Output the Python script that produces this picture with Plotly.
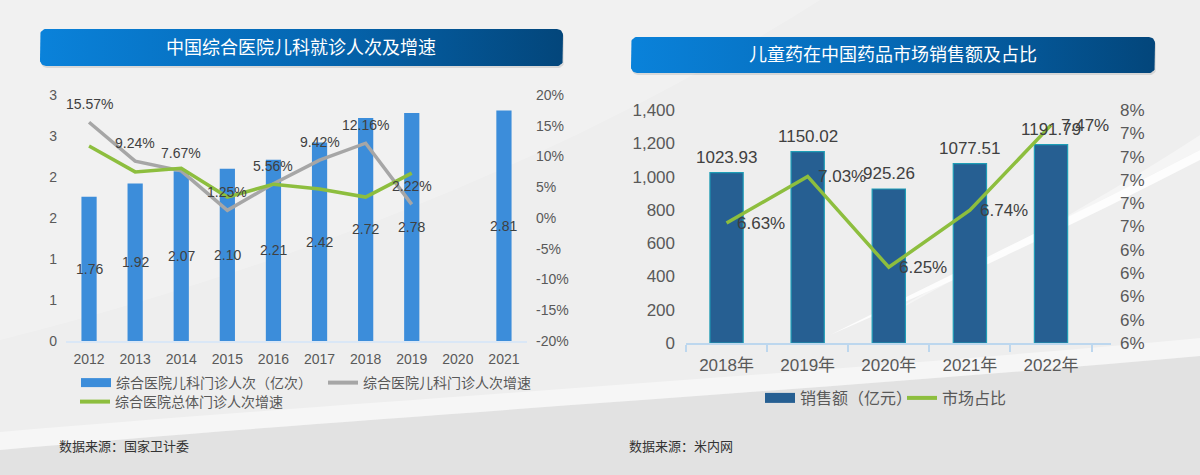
import plotly.graph_objects as go
import math

# ---------------- data ----------------
years_left = [2012, 2013, 2014, 2015, 2016, 2017, 2018, 2019, 2020, 2021]
visits = [1.76, 1.92, 2.07, 2.10, 2.21, 2.42, 2.72, 2.78, None, 2.81]          # 亿次
ped_growth = [15.57, 9.24, 7.67, 1.25, 5.56, 9.42, 12.16, 2.22, None, None]      # %
total_growth = [11.7, 7.5, 8.1, 3.4, 5.5, 4.7, 3.4, 7.3, None, None]             # % (estimated)

left_y_ticks = [0, 0.5, 1, 1.5, 2, 2.5, 3]
left_y_text = ["0", "1", "1", "2", "2", "3", "3"]
left_y2_ticks = [-20, -15, -10, -5, 0, 5, 10, 15, 20]
left_y2_text = ["-20%", "-15%", "-10%", "-5%", "0%", "5%", "10%", "15%", "20%"]

years_right = ["2018年", "2019年", "2020年", "2021年", "2022年"]
sales = [1023.93, 1150.02, 925.26, 1077.51, 1191.79]   # 亿元
share = [6.63, 7.03, 6.25, 6.74, 7.47]                  # %

right_y2_ticks = [5.6, 5.8, 6.0, 6.2, 6.4, 6.6, 6.8, 7.0, 7.2, 7.4, 7.6]
right_y2_text = ["6%", "6%", "6%", "6%", "6%", "7%", "7%", "7%", "7%", "7%", "8%"]

title_left = "中国综合医院儿科就诊人次及增速"
title_right = "儿童药在中国药品市场销售额及占比"
source_left = "数据来源：国家卫计委"
source_right = "数据来源：米内网"
names_left = ["综合医院儿科门诊人次（亿次）", "综合医院儿科门诊人次增速", "综合医院总体门诊人次增速"]
names_right = ["销售额（亿元）", "市场占比"]

# ---------------- style ----------------
W, H = 1200, 475
FONT = "Liberation Sans, Noto Sans CJK SC, sans-serif"
AXIS_C = "#595959"
LABEL_C = "#404040"
BLUE_L = "#3C8DDA"
BLUE_R = "#265F92"
GREY = "#A6A6A6"
GREEN = "#8DBE3E"


def px(x):
    return x / W


def py(y):
    return 1 - y / H


def P(x, y):
    return f"{px(x):.5f},{py(y):.5f}"


fig = go.Figure()

# ---- left chart ----
fig.add_trace(go.Bar(x=years_left, y=visits, marker=dict(color=BLUE_L), width=0.33,
                     xaxis="x", yaxis="y", showlegend=False, hoverinfo="skip"))
fig.add_trace(go.Scatter(x=years_left, y=ped_growth, mode="lines", line=dict(color=GREY, width=3.5),
                         xaxis="x", yaxis="y2", showlegend=False))
fig.add_trace(go.Scatter(x=years_left, y=total_growth, mode="lines", line=dict(color=GREEN, width=3.5),
                         xaxis="x", yaxis="y2", showlegend=False))

# ---- right chart ----
fig.add_trace(go.Bar(x=years_right, y=sales, marker=dict(color=BLUE_R, line=dict(color="#1E9DB6", width=1.2)),
                     width=0.41, xaxis="x3", yaxis="y3", showlegend=False))
fig.add_trace(go.Scatter(x=years_right, y=share, mode="lines", line=dict(color=GREEN, width=3.5),
                         xaxis="x3", yaxis="y4", showlegend=False))

# ---- legend proxies ----
legend_specs = [
    (names_left[0], BLUE_L, 9, "legend"),
    (names_left[1], GREY, 4, "legend2"),
    (names_left[2], GREEN, 4, "legend3"),
    (names_right[0], BLUE_R, 10, "legend4"),
    (names_right[1], GREEN, 4, "legend5"),
]
for name, col, lw, lg in legend_specs:
    fig.add_trace(go.Scatter(x=[None], y=[None], mode="lines", name=name, line=dict(color=col, width=lw),
                             xaxis="x5", yaxis="y5", legend=lg, showlegend=True))


# ---- title boxes (gradient) ----
def rounded_rect(x0, y0, x1, y1, r, n=8):
    xs, ys = [], []
    corners = [(x1 - r, y0 + r, -90, 0), (x1 - r, y1 - r, 0, 90), (x0 + r, y1 - r, 90, 180), (x0 + r, y0 + r, 180, 270)]
    for cx, cy, a0, a1 in corners:
        for i in range(n + 1):
            a = math.radians(a0 + (a1 - a0) * i / n)
            xs.append(cx + r * math.cos(a))
            ys.append(cy + r * math.sin(a))
    xs.append(xs[0])
    ys.append(ys[0])
    return xs, ys


for (x0, y0, x1, y1) in [(40, 29, 563, 66), (631, 37, 1155, 73)]:
    sx, sy = rounded_rect(x0 + 1, y0 + 2, x1 + 1, y1 + 2, 6)
    fig.add_trace(go.Scatter(x=sx, y=sy, mode="lines", line=dict(width=0), fill="toself",
                             fillcolor="rgba(0,0,0,0.10)", xaxis="x5", yaxis="y5", showlegend=False,
                             hoverinfo="skip"))
    bx, by = rounded_rect(x0, y0, x1, y1, 6)
    fig.add_trace(go.Scatter(x=bx, y=by, mode="lines", line=dict(width=0), fill="toself",
                             fillgradient=dict(type="horizontal",
                                               colorscale=[[0, "#0A82DA"], [0.5, "#0568B4"], [1, "#03467B"]]),
                             xaxis="x5", yaxis="y5", showlegend=False, hoverinfo="skip"))

annotations = []
annotations.append(dict(text=title_left, x=px(301), y=py(48), xref="paper", yref="paper", showarrow=False,
                        font=dict(size=18, color="white", family=FONT), xanchor="center", yanchor="middle"))
annotations.append(dict(text=title_right, x=px(893), y=py(55), xref="paper", yref="paper", showarrow=False,
                        font=dict(size=18, color="white", family=FONT), xanchor="center", yanchor="middle"))
annotations.append(dict(text=source_left, x=px(57), y=py(446), xref="paper", yref="paper", showarrow=False,
                        font=dict(size=13, color="#333333", family=FONT), xanchor="left", yanchor="middle"))
annotations.append(dict(text=source_right, x=px(627), y=py(446), xref="paper", yref="paper", showarrow=False,
                        font=dict(size=13, color="#333333", family=FONT), xanchor="left", yanchor="middle"))

# bar value labels (left, centred in bar)
for yr, v in zip(years_left, visits):
    if v is None:
        continue
    annotations.append(dict(text=f"{v:.2f}", x=yr, y=v / 2, xref="x", yref="y", showarrow=False,
                            font=dict(size=14, color=LABEL_C, family=FONT), xanchor="center", yanchor="middle"))
# grey line labels
for yr, v in zip(years_left, ped_growth):
    if v is None:
        continue
    annotations.append(dict(text=f"{v:.2f}%", x=yr, y=v, xref="x", yref="y2", showarrow=False, yshift=18,
                            font=dict(size=14, color=LABEL_C, family=FONT), xanchor="center", yanchor="middle"))
# right bar labels
for yr, v in zip(years_right, sales):
    annotations.append(dict(text=f"{v:.2f}", x=yr, y=v, xref="x3", yref="y3", showarrow=False, yshift=4,
                            font=dict(size=17, color=LABEL_C, family=FONT), xanchor="center", yanchor="bottom"))
# right line labels
for yr, v in zip(years_right, share):
    annotations.append(dict(text=f"{v:.2f}%", x=yr, y=v, xref="x3", yref="y4", showarrow=False, xshift=8,
                            font=dict(size=17, color=LABEL_C, family=FONT), xanchor="left", yanchor="middle"))

# ---- background decorations (paper coordinates, below everything) ----
shapes = [
    dict(type="path", xref="paper", yref="paper", layer="below",
         path=f"M{P(0,0)} L{P(820,0)} C{P(600,140)} {P(320,260)} {P(0,340)} Z",
         fillcolor="rgba(255,255,255,0.22)", line=dict(width=0)),
    dict(type="path", xref="paper", yref="paper", layer="below",
         path=f"M{P(0,450)} C{P(350,418)} {P(800,392)} {P(1200,356)} L{P(1200,475)} L{P(0,475)} Z",
         fillcolor="rgba(218,218,218,0.6)", line=dict(width=0)),
    dict(type="path", xref="paper", yref="paper", layer="below",
         path=f"M{P(0,432)} C{P(350,402)} {P(800,375)} {P(1200,338)} L{P(1200,356)} "
              f"C{P(800,392)} {P(350,418)} {P(0,450)} Z",
         fillcolor="rgba(255,255,255,0.45)", line=dict(width=0)),
    dict(type="path", xref="paper", yref="paper", layer="below",
         path=f"M{P(830,335)} C{P(950,275)} {P(1080,212)} {P(1200,150)} L{P(1200,160)} "
              f"C{P(1080,222)} {P(950,283)} {P(830,335)} Z",
         fillcolor="rgba(255,255,255,0.85)", line=dict(width=0)),
    dict(type="path", xref="paper", yref="paper", layer="below",
         path=f"M{P(880,320)} C{P(990,260)} {P(1100,200)} {P(1200,135)} L{P(1200,150)} "
              f"C{P(1080,212)} {P(950,275)} {P(880,320)} Z",
         fillcolor="rgba(255,255,255,0.4)", line=dict(width=0)),
]

tickfont_l = dict(size=14, color=AXIS_C, family=FONT)
tickfont_r = dict(size=17, color=AXIS_C, family=FONT)


def legend_cfg(x, y, size):
    return dict(x=px(x), y=py(y), xanchor="left", yanchor="middle", orientation="h",
                bgcolor="rgba(0,0,0,0)", borderwidth=0, font=dict(size=size, color=AXIS_C, family=FONT),
                itemclick=False, itemdoubleclick=False)


fig.update_layout(
    template="none",
    width=W, height=H,
    autosize=False,
    margin=dict(l=0, r=0, t=0, b=0, pad=0, autoexpand=False),
    paper_bgcolor="#EEEEEE",
    plot_bgcolor="rgba(0,0,0,0)",
    font=dict(family=FONT, color=AXIS_C),
    barmode="overlay",
    xaxis=dict(domain=[px(66), px(527)], anchor="y", type="linear", range=[2011.5, 2021.5],
               tickvals=years_left, ticktext=[str(y) for y in years_left], automargin=False,
               showline=True, linecolor="#DAE7F6", linewidth=2, ticks="",
               tickfont=tickfont_l, showgrid=False, zeroline=False, ticklabelstandoff=4),
    yaxis=dict(domain=[py(341), py(95)], anchor="x", range=[0, 3], tickvals=left_y_ticks, ticktext=left_y_text,
               showgrid=False, zeroline=False, tickfont=tickfont_l, ticklabelstandoff=8, ticks="",
               showline=False, automargin=False),
    yaxis2=dict(overlaying="y", side="right", anchor="x", range=[-20, 20], tickvals=left_y2_ticks,
                ticktext=left_y2_text, showgrid=False, zeroline=False, tickfont=tickfont_l, ticklabelstandoff=8,
                ticks="", showline=False, automargin=False),
    xaxis3=dict(domain=[px(686), px(1111)], anchor="y3", type="category", categoryorder="array",
                categoryarray=years_right, showline=True, linecolor="#BDD7EE", linewidth=1.5, ticks="outside",
                tickson="boundaries", ticklen=7, tickcolor="#BDD7EE", tickwidth=1.5, tickfont=tickfont_r,
                showgrid=False, zeroline=False, automargin=False, ticklabelstandoff=6),
    yaxis3=dict(domain=[py(343), py(110)], anchor="x3", range=[0, 1400], dtick=200, tickformat=",",
                showgrid=False, zeroline=False, tickfont=tickfont_r, ticklabelstandoff=10, ticks="",
                showline=False, automargin=False),
    yaxis4=dict(overlaying="y3", side="right", anchor="x3", range=[5.6, 7.6], tickvals=right_y2_ticks,
                ticktext=right_y2_text, showgrid=False, zeroline=False, tickfont=tickfont_r, ticklabelstandoff=8,
                ticks="", showline=False, automargin=False),
    xaxis5=dict(domain=[0, 1], anchor="y5", range=[0, W], visible=False, fixedrange=True, automargin=False),
    yaxis5=dict(domain=[0, 1], anchor="x5", range=[H, 0], visible=False, fixedrange=True, automargin=False),
    legend=legend_cfg(76, 383, 14),
    legend2=legend_cfg(323, 383, 14),
    legend3=legend_cfg(75, 402, 14),
    legend4=legend_cfg(760, 398, 16),
    legend5=legend_cfg(902, 398, 16),
    annotations=annotations,
    shapes=shapes,
    showlegend=True,
)

fig.write_html("out.html", config={"displayModeBar": False},
               post_script="document.body.style.margin='0';document.body.style.overflow='hidden';")
